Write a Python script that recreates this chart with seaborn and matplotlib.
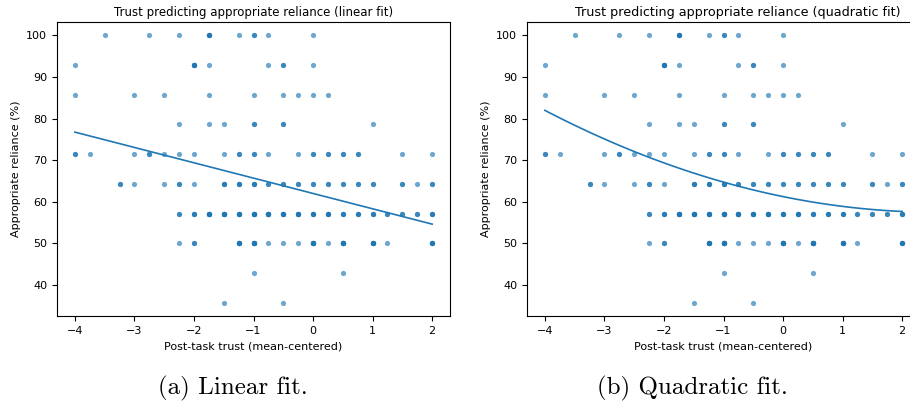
import numpy as np
import pandas as pd
import matplotlib
matplotlib.use("Agg")
import matplotlib.pyplot as plt
import seaborn as sns

# reliance levels are k/14 of the trials
lvl = {k: round(100 * k / 14, 2) for k in range(5, 15)}

# (trust, count) per reliance level; counts > 1 are overlapping participants
row_100 = [(-3.5, 1), (-2.75, 1), (-2.25, 1), (-1.75, 4), (-1.25, 1), (-1, 2), (-0.75, 1), (0, 1)]
row_93 = [(-4, 1), (-2, 5), (-1.75, 1), (-0.75, 1), (-0.5, 2), (0, 1)]
row_86 = [(-4, 1), (-3, 1), (-2.5, 1), (-1.75, 1), (-1, 1), (-0.5, 1), (-0.25, 1), (0, 1), (0.25, 1)]
row_79 = [(-2.25, 1), (-1.75, 1), (-1.5, 1), (-1, 2), (-0.5, 2), (1, 1)]
row_71 = [(-4, 2), (-3.75, 1), (-3, 1), (-2.75, 2), (-2.5, 1), (-2.25, 1), (-2, 1), (-1.5, 1),
          (-1.25, 2), (-1, 2), (-0.75, 1), (-0.25, 1), (0, 2), (0.25, 2), (0.5, 2), (0.75, 2),
          (1.5, 1), (2, 1)]
row_64 = [(-3.25, 2), (-3, 1), (-2.5, 1), (-2.25, 2), (-2, 1), (-1.5, 3), (-1.25, 3), (-1, 3),
          (-0.75, 2), (-0.5, 2), (-0.25, 2), (0, 2), (0.25, 2), (0.5, 2), (0.75, 2), (1, 2),
          (1.5, 2), (1.75, 1), (2, 2)]
row_57 = [(-2.25, 2), (-2, 3), (-1.75, 6), (-1.5, 6), (-1.25, 5), (-1, 6), (-0.75, 6), (-0.5, 5),
          (-0.25, 5), (0, 4), (0.25, 4), (0.5, 3), (0.75, 3), (1, 3), (1.25, 2), (1.5, 2),
          (1.75, 2), (2, 3)]
row_50 = [(-2.25, 1), (-2, 2), (-1.25, 6), (-1, 7), (-0.75, 1), (-0.5, 1), (-0.25, 1), (0, 7),
          (0.25, 1), (0.5, 7), (1, 6), (1.25, 1), (2, 4)]
row_43 = [(-1, 1), (0.5, 1)]
row_36 = [(-1.5, 1), (-0.5, 1)]

rows = {14: row_100, 13: row_93, 12: row_86, 11: row_79, 10: row_71,
        9: row_64, 8: row_57, 7: row_50, 6: row_43, 5: row_36}

trust, reliance = [], []
for k, pts in rows.items():
    for x, n in pts:
        trust += [x] * n
        reliance += [lvl[k]] * n
df = pd.DataFrame({"trust": trust, "reliance": reliance})

fig = plt.figure(figsize=(9.1, 4.05), dpi=100)
ax1 = fig.add_axes([57 / 910, 89 / 405, 393 / 910, 294 / 405])
ax2 = fig.add_axes([527 / 910, 89 / 405, 393 / 910, 294 / 405])

sc = dict(s=14, alpha=0.65, linewidths=0)
ln = dict(linewidth=1.2)
sns.regplot(data=df, x="trust", y="reliance", ax=ax1, ci=None, order=1,
            scatter_kws=sc, line_kws=ln, color="#1f77b4")
sns.regplot(data=df, x="trust", y="reliance", ax=ax2, ci=None, order=2,
            scatter_kws=sc, line_kws=ln, color="#1f77b4")

for ax, t, tx, fs in [(ax1, "Trust predicting appropriate reliance (linear fit)", 0.5, 8.5),
                      (ax2, "Trust predicting appropriate reliance (quadratic fit)", 0.535, 9.2)]:
    ax.set_title(t, fontsize=fs, x=tx, pad=4)
    ax.set_xlabel("Post-task trust (mean-centered)", fontsize=8)
    ax.set_ylabel("Appropriate reliance (%)", fontsize=8)
    ax.tick_params(labelsize=8)
    ax.set_yticks([40, 50, 60, 70, 80, 90, 100])
    ax.set_xticks([-4, -3, -2, -1, 0, 1, 2])

fig.text(233 / 910, 1 - 388 / 405, "(a) Linear fit.", family="cmr10", fontsize=18,
         ha="center", va="center")
fig.text(692 / 910, 1 - 388 / 405, "(b) Quadratic fit.", family="cmr10", fontsize=18,
         ha="center", va="center")

fig.savefig("out.png", dpi=100)
